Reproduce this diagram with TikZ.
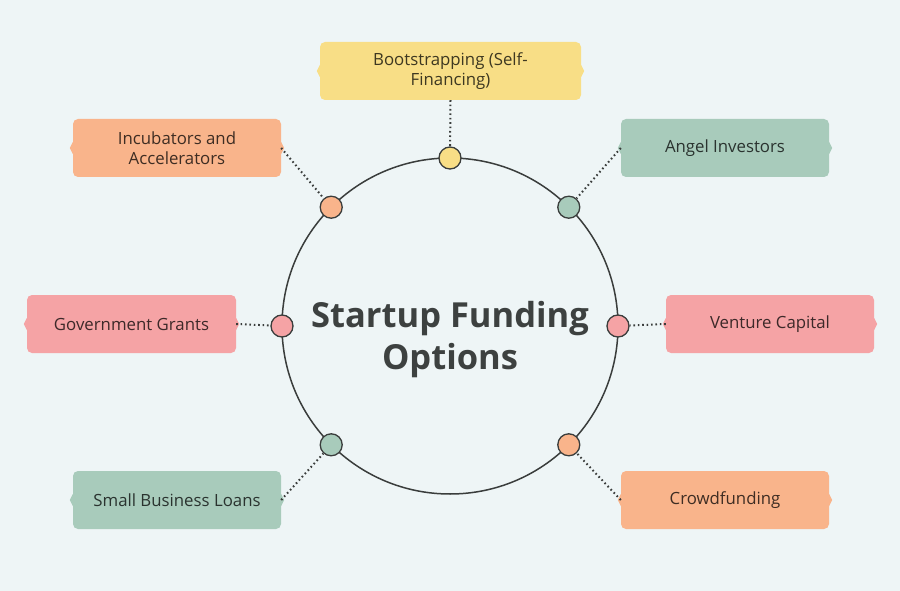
\documentclass[tikz,border=0pt]{standalone}
\usepackage{fontspec}
\setmainfont{Open Sans}
\usetikzlibrary{positioning}
\definecolor{bggray}{HTML}{EEF5F6}
\definecolor{linegray}{HTML}{3A3D3C}
\definecolor{titlegray}{HTML}{3D4140}
\definecolor{bootyel}{HTML}{F8DE86}
\definecolor{incorange}{HTML}{F9B48B}
\definecolor{angelgreen}{HTML}{A8CBBB}
\definecolor{grantpink}{HTML}{F5A3A5}

\begin{document}
\begin{tikzpicture}[x=1pt,y=-1pt,
		fund/.style={
			fill=#1,
			rounded corners=5pt,
			minimum width=208pt,
			minimum height=58pt,
			inner sep=0pt,
			align=center,
			text=#1!25!black,
			font=\fontsize{16.8}{19.5}\selectfont
		},
		pin/.style={
			circle,
			draw=linegray,
			fill=#1,
			line width=1.3pt,
			minimum size=22pt,
			inner sep=0pt
		},
		link/.style={
			draw=linegray,
			line width=2pt,
			dash pattern=on 1.6pt off 2.8pt
		}
		]
		
		\fill[bggray] (0,0) rectangle (900,591);
		\useasboundingbox (0,0) rectangle (900,591);
		
		% hub
		\node[circle, draw=linegray, line width=1.5pt, minimum size=336pt, outer sep=0pt] 
		(hub) at (450,326) {};
		\node[text=titlegray, font=\fontsize{34.5}{42}\selectfont\bfseries, align=center] 
		(title) at (450,340) {Startup Funding\\Options};
		
		% boxes
		\node[fund=bootyel, minimum width=261pt] at (450.5,71)  
		(boot) {Bootstrapping (Self-\\Financing)};
		\node[fund=incorange] at (177,148)  
		(incub) {Incubators and\\Accelerators};
		\node[fund=angelgreen] at (725,148)  
		(angel) {Angel Investors};
		\node[fund=grantpink, minimum width=209pt] at (131.5,324)  
		(grant) {Government Grants};
		\node[fund=grantpink] at (770,324)  
		(venture) {Venture Capital};
		\node[fund=angelgreen] at (177,500)  
		(loans) {Small Business Loans};
		\node[fund=incorange] at (725,500)  
		(crowd) {Crowdfunding};
		
		% side notches
		\foreach \n/\c in {boot/bootyel, incub/incorange, angel/angelgreen, grant/grantpink,
			venture/grantpink, loans/angelgreen, crowd/incorange} {
			\fill[\c] (\n.west) ++(0,-6) -- ++(-3,6) -- ++(3,6) -- cycle;
			\fill[\c] (\n.east) ++(0,-6) -- ++(3,6) -- ++(-3,6) -- cycle;
		}
		
		% dots on the ring
		\node[pin=bootyel] at (hub.90) (dboot) {};
		\node[pin=angelgreen] at (hub.45) (dangel) {};
		\node[pin=grantpink] at (hub.0) (dventure) {};
		\node[pin=incorange] at (hub.-45) (dcrowd) {};
		\node[pin=angelgreen] at (hub.-135) (dloans) {};
		\node[pin=grantpink] at (hub.180) (dgrant) {};
		\node[pin=incorange] at (hub.135) (dincub) {};
		
		\draw[link] (boot.south) -- (dboot);
		\draw[link] (angel.west) -- (dangel);
		\draw[link] (venture.west) -- (dventure);
		\draw[link] (crowd.west) -- (dcrowd);
		\draw[link] (loans.east) -- (dloans);
		\draw[link] (grant.east) -- (dgrant);
		\draw[link] (incub.east) -- (dincub);
		
		\end{tikzpicture}
\end{document}
